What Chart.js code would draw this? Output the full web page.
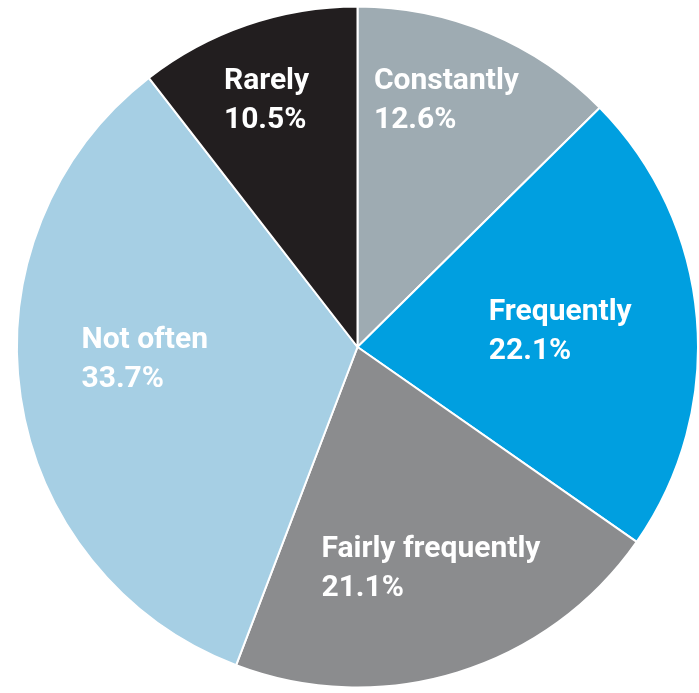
<!DOCTYPE html>
<html>
<head>
<meta charset="utf-8">
<script src="https://cdn.jsdelivr.net/npm/chart.js@4/dist/chart.umd.min.js"></script>
<style>
  html, body { margin: 0; padding: 0; background: #fff; }
  #wrap { width: 699px; height: 693px; position: relative; }
</style>
</head>
<body>
<div id="wrap"><canvas id="pie"></canvas></div>
<script>
const categories = ['Constantly', 'Frequently', 'Fairly frequently', 'Not often', 'Rarely'];
const shares = [12.6, 22.1, 21.1, 33.7, 10.5];
const colours = ['#9eabb2', '#009fe0', '#8b8c8e', '#a6cfe4', '#221e1f'];

// how far out (fraction of radius) each label block sits, and a small angle nudge in degrees
const labelSpots = [
    { r: 0.768, a: -2.8 },
    { r: 0.597, a: 0.6 },
    { r: 0.687, a: -1.2 },
    { r: 0.626, a: 5 },
    { r: 0.77, a: -1.4 }
];

const sliceLabels = {
    id: 'sliceLabels',
    afterDatasetsDraw(chart) {
        const ctx = chart.ctx;
        const meta = chart.getDatasetMeta(0);
        ctx.save();
        ctx.fillStyle = '#ffffff';
        ctx.font = 'bold 30px Roboto, sans-serif';
        ctx.textBaseline = 'middle';
        ctx.textAlign = 'left';
        meta.data.forEach((arc, i) => {
            const spot = labelSpots[i];
            const mid = (arc.startAngle + arc.endAngle) / 2 + spot.a * Math.PI / 180;
            const rad = arc.outerRadius * spot.r;
            const cx = arc.x + Math.cos(mid) * rad;
            const cy = arc.y + Math.sin(mid) * rad;
            const lines = [categories[i], shares[i].toFixed(1) + '%'];
            const w = Math.max(...lines.map(l => ctx.measureText(l).width));
            const lh = 39;
            lines.forEach((l, k) => {
                ctx.fillText(l, cx - w / 2, cy + (k - 0.5) * lh);
            });
        });
        ctx.restore();
    }
};

new Chart(document.getElementById('pie'), {
    type: 'pie',
    data: {
        labels: categories,
        datasets: [{
            data: shares,
            backgroundColor: colours,
            borderColor: '#ffffff',
            borderWidth: 2
        }]
    },
    options: {
        responsive: true,
        maintainAspectRatio: false,
        animation: false,
        layout: { padding: { left: 16, top: 5, right: 0, bottom: 4 } },
        plugins: {
            legend: { display: false },
            tooltip: { enabled: false }
        }
    },
    plugins: [sliceLabels]
});
</script>
</body>
</html>
